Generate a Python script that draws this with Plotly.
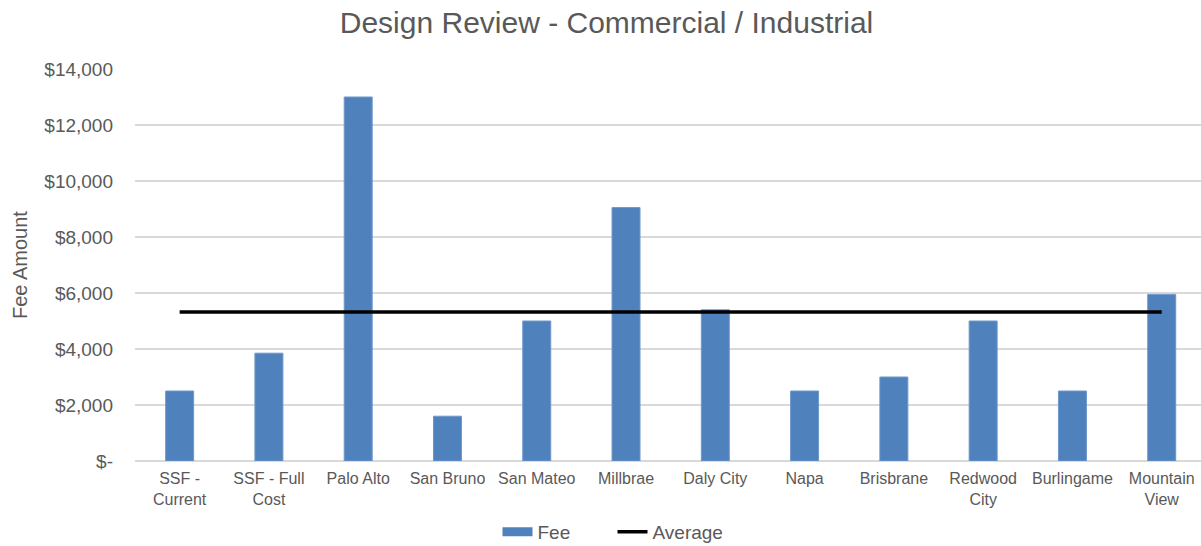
import plotly.graph_objects as go

cities = ["SSF -<br>Current", "SSF - Full<br>Cost", "Palo Alto", "San Bruno", "San Mateo",
          "Millbrae", "Daly City", "Napa", "Brisbrane", "Redwood<br>City",
          "Burlingame", "Mountain<br>View"]
fees = [2500, 3850, 13000, 1600, 5000, 9050, 5400, 2500, 3000, 5000, 2500, 5950]
average = [5320] * 12

tick_vals = [0, 2000, 4000, 6000, 8000, 10000, 12000, 14000]
tick_text = ["$-", "$2,000", "$4,000", "$6,000", "$8,000", "$10,000", "$12,000", "$14,000"]

grey = "#595959"
bar_blue = "#4F81BD"
font_family = "Liberation Sans, Arial, sans-serif"

fig = go.Figure()
fig.add_trace(go.Bar(
    x=cities, y=fees, name="Fee", showlegend=False,
    marker=dict(color=bar_blue, line=dict(color="#6E97CB", width=1)),
))
# wide swatch for the Fee legend entry
fig.add_trace(go.Scatter(
    x=[None], y=[None], name="Fee", mode="lines",
    line=dict(color=bar_blue, width=9),
))
fig.add_trace(go.Scatter(
    x=cities, y=average, name="Average", mode="lines",
    line=dict(color="black", width=3.5),
))

fig.update_layout(
    width=1201, height=546,
    margin=dict(l=135, r=0, t=69, b=85),
    paper_bgcolor="white", plot_bgcolor="white",
    font=dict(family=font_family, color=grey, size=16),
    title=dict(text="Design Review - Commercial / Industrial",
               x=0.505, xanchor="center", y=0.958, yanchor="middle",
               font=dict(size=30, color=grey)),
    bargap=0.6865,
    showlegend=True,
    legend=dict(orientation="h", xref="container", x=0.51, xanchor="center",
                yref="container", y=0.026, yanchor="middle",
                font=dict(size=19, color=grey), entrywidth=70,
                traceorder="normal"),
    annotations=[dict(
        text="Fee Amount", textangle=-90, showarrow=False,
        xref="paper", x=-(135 - 20) / 1066, xanchor="center",
        yref="paper", y=0.5, yanchor="middle",
        font=dict(size=20, color=grey),
    )],
)
fig.update_xaxes(
    range=[-0.5, 11.44],
    showgrid=False, showline=False, ticks="",
    tickfont=dict(size=16, color=grey), ticklabelstandoff=6,
    automargin=False,
)
fig.update_yaxes(
    range=[0, 14000], tickvals=tick_vals, ticktext=tick_text,
    showgrid=True, gridcolor="#D9D9D9", gridwidth=1.5,
    zeroline=True, zerolinecolor="#D9D9D9", zerolinewidth=1.5,
    tickfont=dict(size=19, color=grey), ticklabelstandoff=21,
    automargin=False,
)

fig.write_html("out.html")
